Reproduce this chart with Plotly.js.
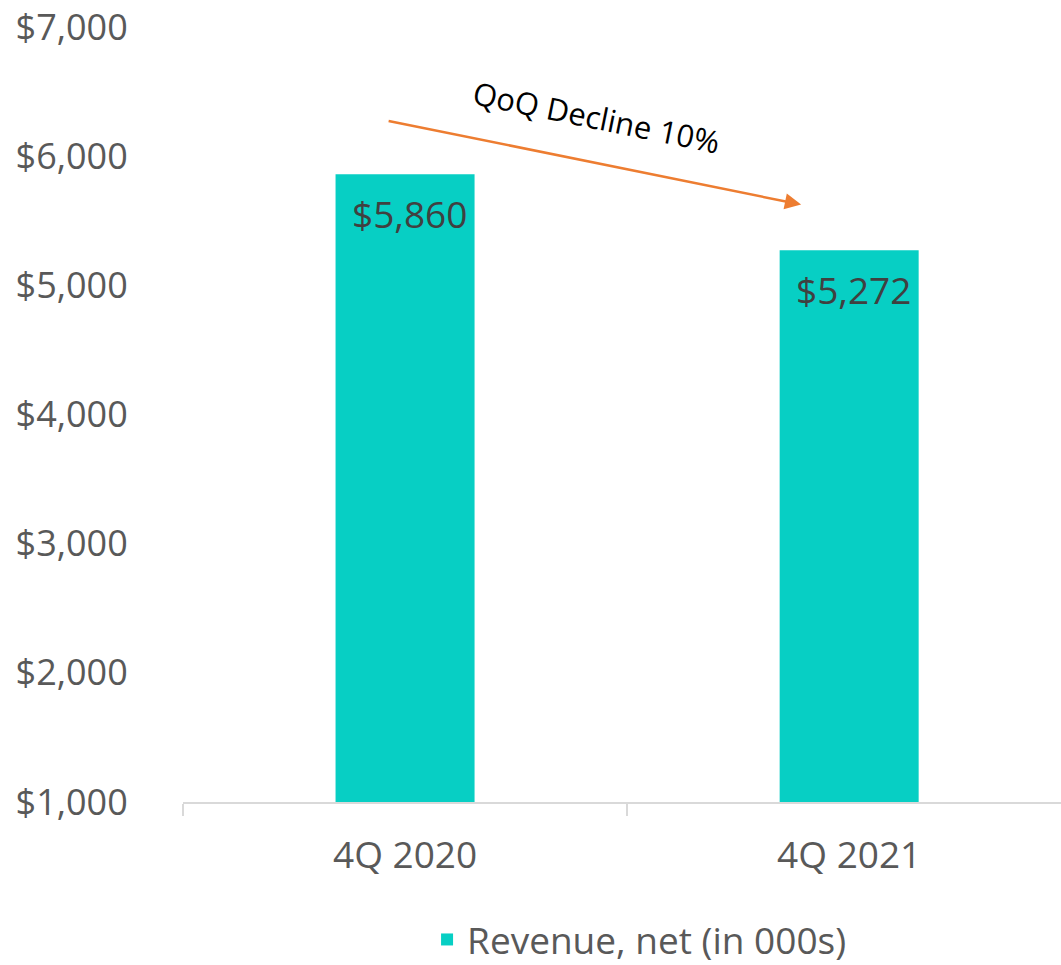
<!DOCTYPE html>
<html>
<head>
<meta charset="utf-8">
<script src="https://cdn.plot.ly/plotly-3.0.1.min.js"></script>
<style>html,body{margin:0;padding:0;background:#fff;}#chart{width:1061px;height:965px;}</style>
</head>
<body>
<div id="chart"></div>
<script>
const categories = ["4Q 2020", "4Q 2021"];
const revenue = [5860, 5272];
const valueLabels = ["$5,860", "$5,272"];
const seriesName = "Revenue, net (in 000s)";
const yTickVals = [1000, 2000, 3000, 4000, 5000, 6000, 7000];
const yTickText = ["$1,000", "$2,000", "$3,000", "$4,000", "$5,000", "$6,000", "$7,000"];
const arrowLabel = "QoQ Decline 10%";

const FONT = "Open Sans, sans-serif";
const GRAY = "#595959";

const trace = {
  type: "bar",
  x: categories,
  y: revenue,
  name: seriesName,
  marker: {color: "#07CFC4"},
  hoverinfo: "skip"
};

const labelAnns = categories.map((c, i) => ({
  x: c, y: revenue[i], xref: "x", yref: "y",
  text: valueLabels[i], showarrow: false,
  yanchor: "top", yshift: -12, xshift: 4,
  font: {family: FONT, size: 37, color: "#404040"}
}));

const layout = {
  width: 1061, height: 965,
  margin: {l: 183, r: 0, t: 27, b: 163},
  paper_bgcolor: "#fff", plot_bgcolor: "#fff",
  bargap: 0.687,
  showlegend: true,
  legend: {
    orientation: "h", xref: "paper", x: 0.52, xanchor: "center",
    yref: "container", y: 0.026, yanchor: "middle",
    font: {family: FONT, size: 37, color: GRAY}
  },
  xaxis: {
    type: "category",
    range: [-0.5, 1.477],
    showgrid: false, zeroline: false,
    showline: true, linecolor: "#d9d9d9", linewidth: 2,
    ticks: "outside", tickson: "boundaries", ticklen: 12, tickcolor: "#d9d9d9", tickwidth: 2,
    ticklabelstandoff: 20,
    tickfont: {family: FONT, size: 37, color: GRAY}
  },
  yaxis: {
    range: [1000, 7000],
    automargin: false,
    ticklabeloverflow: "allow",
    showgrid: false, zeroline: false, showline: false,
    tickvals: yTickVals, ticktext: yTickText,
    ticks: "outside", ticklen: 47, tickcolor: "rgba(0,0,0,0)",
    tickfont: {family: FONT, size: 36, color: GRAY}
  },
  annotations: labelAnns.concat([
    {
      xref: "paper", yref: "y", x: 0.704, y: 5625,
      axref: "pixel", ayref: "pixel", ax: -414, ay: -84,
      text: "", showarrow: true,
      arrowhead: 2, arrowsize: 1.3, arrowwidth: 2.5, arrowcolor: "#ED7D31", standoff: 0
    },
    {
      xref: "paper", yref: "y", x: 0.471, y: 6300,
      text: arrowLabel, showarrow: false, textangle: 11.5,
      font: {family: FONT, size: 31, color: "#000"}
    }
  ])
};

Plotly.newPlot("chart", [trace], layout, {displayModeBar: false, staticPlot: true});
</script>
</body>
</html>
